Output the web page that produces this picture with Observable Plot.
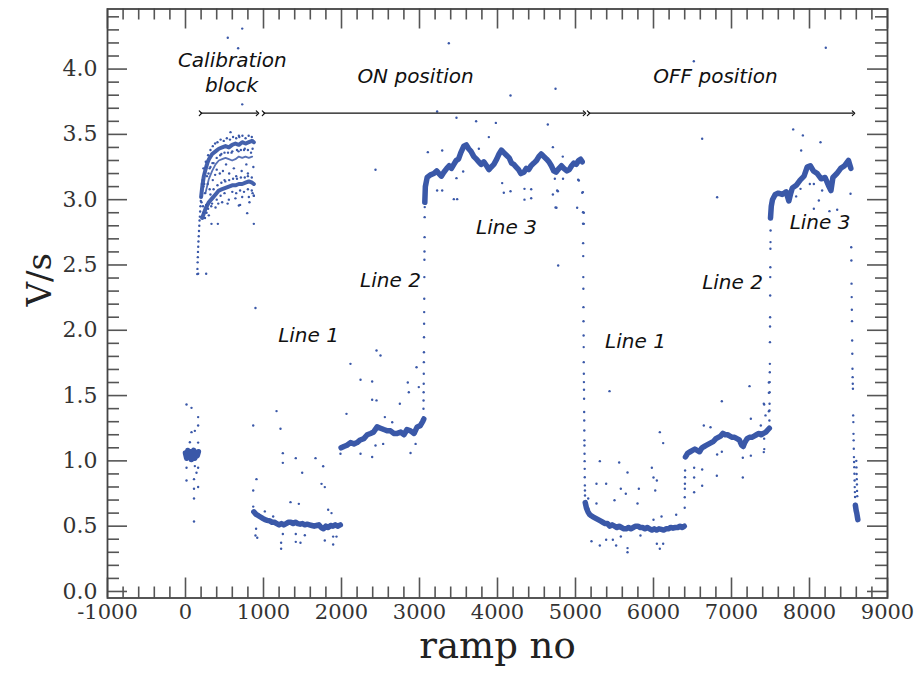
<!DOCTYPE html>
<html><head><meta charset="utf-8">
<script src="https://cdn.jsdelivr.net/npm/d3@7"></script>
<script src="https://cdn.jsdelivr.net/npm/@observablehq/plot@0.6"></script>
<style>body{margin:0;background:#fff}</style>
</head><body><div id="chart"></div>
<script>
// ---- tick labels ----
const xTicks = [-1000, 0, 1000, 2000, 3000, 4000, 5000, 6000, 7000, 8000, 9000];
const yTicks = [0.0, 0.5, 1.0, 1.5, 2.0, 2.5, 3.0, 3.5, 4.0];

// ---- dense bands: [ramp no, V/s] ----
const segA = [[0,1.06],[15,1.02],[30,1.08],[45,1.03],[60,1.07],[75,1.01],[90,1.05],[105,1.08],[120,1.02],[135,1.06],[150,1.04],[165,1.07]];
const calUpper = [[200,3.02],[215,3.10],[235,3.18],[256,3.23],[280,3.28],[300,3.31],[342,3.35],[385,3.37],[427,3.39],[470,3.40],[513,3.41],[556,3.40],[598,3.42],[640,3.43],[684,3.42],[727,3.44],[769,3.43],[812,3.44],[855,3.45],[876,3.44]];
const calMiddle = [[256,3.05],[300,3.16],[342,3.22],[385,3.27],[427,3.30],[470,3.31],[513,3.32],[556,3.31],[598,3.30],[640,3.31],[684,3.33],[727,3.32],[769,3.33],[812,3.32],[855,3.33]];
const calLower = [[214,2.86],[256,2.93],[299,2.98],[342,3.01],[385,3.04],[427,3.07],[470,3.08],[513,3.09],[556,3.10],[598,3.11],[640,3.11],[684,3.12],[727,3.12],[769,3.13],[812,3.14],[855,3.13],[876,3.12]];
const on1 = [[876,0.61],[905,0.59],[935,0.58],[962,0.57],[990,0.56],[1020,0.55],[1047,0.545],[1080,0.54],[1110,0.53],[1140,0.53],[1170,0.52],[1200,0.51],[1230,0.52],[1260,0.51],[1290,0.52],[1320,0.53],[1350,0.53],[1380,0.52],[1410,0.53],[1440,0.52],[1470,0.515],[1500,0.52],[1530,0.51],[1560,0.515],[1590,0.51],[1620,0.505],[1650,0.50],[1680,0.505],[1710,0.51],[1740,0.49],[1770,0.48],[1800,0.50],[1830,0.49],[1860,0.505],[1890,0.50],[1920,0.51],[1950,0.50],[1985,0.51]];
const on2 = [[1995,1.10],[2030,1.11],[2070,1.12],[2115,1.14],[2160,1.13],[2200,1.14],[2240,1.16],[2286,1.17],[2330,1.20],[2372,1.21],[2410,1.22],[2457,1.26],[2500,1.25],[2543,1.24],[2590,1.23],[2628,1.23],[2670,1.21],[2714,1.21],[2760,1.22],[2800,1.20],[2840,1.24],[2885,1.23],[2930,1.21],[2970,1.26],[3010,1.27],[3040,1.30],[3055,1.32]];
const on3 = [[3068,2.98],[3075,3.10],[3098,3.17],[3140,3.19],[3184,3.20],[3220,3.22],[3250,3.20],[3280,3.18],[3312,3.21],[3350,3.24],[3380,3.26],[3410,3.24],[3440,3.27],[3470,3.30],[3500,3.31],[3530,3.36],[3568,3.41],[3600,3.42],[3630,3.39],[3660,3.37],[3697,3.33],[3730,3.31],[3760,3.29],[3790,3.27],[3825,3.29],[3860,3.26],[3890,3.23],[3920,3.25],[3953,3.27],[3990,3.31],[4020,3.35],[4050,3.38],[4081,3.36],[4115,3.34],[4150,3.32],[4180,3.28],[4209,3.27],[4240,3.25],[4270,3.23],[4300,3.20],[4338,3.21],[4370,3.24],[4400,3.23],[4430,3.26],[4466,3.28],[4500,3.30],[4530,3.33],[4560,3.35],[4594,3.33],[4630,3.31],[4660,3.29],[4690,3.26],[4722,3.22],[4750,3.21],[4790,3.24],[4820,3.26],[4850,3.24],[4890,3.22],[4920,3.23],[4950,3.26],[4979,3.28],[5010,3.27],[5040,3.30],[5065,3.31],[5086,3.29]];
const off1 = [[5125,0.68],[5140,0.64],[5160,0.61],[5180,0.59],[5200,0.58],[5230,0.57],[5260,0.56],[5290,0.55],[5320,0.54],[5350,0.53],[5380,0.52],[5410,0.52],[5440,0.50],[5470,0.51],[5500,0.50],[5530,0.49],[5560,0.50],[5590,0.49],[5620,0.48],[5650,0.48],[5680,0.49],[5710,0.48],[5740,0.49],[5770,0.50],[5800,0.50],[5830,0.49],[5860,0.49],[5890,0.48],[5920,0.49],[5950,0.48],[5980,0.47],[6010,0.48],[6040,0.47],[6070,0.48],[6100,0.475],[6130,0.47],[6160,0.48],[6190,0.48],[6220,0.49],[6250,0.485],[6280,0.49],[6310,0.49],[6340,0.50],[6370,0.49],[6395,0.50]];
const off2 = [[6410,1.03],[6440,1.06],[6470,1.07],[6500,1.08],[6530,1.09],[6560,1.08],[6590,1.07],[6620,1.10],[6650,1.11],[6680,1.12],[6710,1.13],[6740,1.14],[6770,1.15],[6800,1.17],[6830,1.18],[6860,1.19],[6890,1.21],[6920,1.20],[6950,1.20],[6980,1.19],[7010,1.18],[7040,1.18],[7070,1.17],[7100,1.16],[7130,1.12],[7150,1.11],[7170,1.14],[7200,1.17],[7230,1.18],[7260,1.18],[7290,1.19],[7320,1.20],[7350,1.21],[7380,1.20],[7410,1.21],[7440,1.22],[7470,1.24],[7485,1.25]];
const off3 = [[7500,2.86],[7510,2.95],[7525,3.00],[7560,3.04],[7600,3.05],[7650,3.04],[7700,3.06],[7735,2.99],[7760,3.05],[7780,3.09],[7830,3.11],[7880,3.15],[7930,3.18],[7970,3.25],[8010,3.26],[8050,3.22],[8100,3.20],[8150,3.16],[8200,3.17],[8250,3.10],[8275,3.07],[8300,3.17],[8350,3.20],[8400,3.24],[8450,3.26],[8500,3.30],[8530,3.24]];
const endBand = [[8588,0.66],[8598,0.62],[8606,0.60],[8614,0.57],[8620,0.55]];

// ---- single points: transitions, calibration cloud and outliers ----
const calCloud = [[150,2.43],[153,2.47],[156,2.52],[158,2.56],[160,2.60],[163,2.64],[166,2.68],[170,2.72],[173,2.76],[177,2.80],[180,2.84],[184,2.87],[188,2.91],[192,2.95],[196,2.99],
[200,3.02],[205,2.98],[210,3.12],[220,3.15],[225,2.95],[230,3.10],[240,3.20],[250,3.05],[265,3.25],[270,2.90],[285,3.12],[295,3.20],[310,3.08],[320,3.25],[330,2.95],[350,3.15],[360,3.28],[380,3.19],[400,3.23],[420,2.97],[440,3.20],[460,3.35],[480,3.22],[500,3.15],[520,3.27],[540,2.97],[560,3.20],[590,3.36],[620,3.24],[650,3.18],[680,3.37],[700,2.96],[720,3.22],[750,3.38],[780,3.27],[800,3.20],[820,2.98],[840,3.36],[860,3.05],[870,3.25],
[299,2.88],[385,2.94],[470,2.98],[556,3.00],[640,3.01],[727,3.02],[812,3.02],[876,3.03],
[230,3.24],[260,3.29],[290,3.34],[320,3.38],[350,3.41],[380,3.43],[410,3.44],[450,3.46],[490,3.45],[530,3.47],[570,3.46],[610,3.48],[650,3.47],[690,3.48],[730,3.49],[770,3.47],[810,3.49],[850,3.48],
[240,3.12],[275,3.18],[310,3.24],[345,3.28],[400,3.32],[445,3.34],[500,3.36],[545,3.36],[600,3.37],[660,3.38],[710,3.38],[760,3.39],[800,3.38],[860,3.39],
[230,2.90],[265,2.96],[320,3.04],[360,3.08],[410,3.11],[460,3.13],[510,3.14],[560,3.15],[610,3.16],[660,3.16],[710,3.17],[760,3.17],[800,3.18],[850,3.17],
[250,2.86],[290,2.93],[340,2.97],[400,3.00],[450,3.03],[500,3.05],[600,3.06],[650,3.05],[700,3.07],[750,3.06],[800,3.08],[850,3.07]];
const transitions = [[3050,1.335],[3051,1.399],[3052,1.462],[3053,1.526],[3054,1.59],[3055,1.667],[3056,1.756],[3057,1.832],[3058,1.947],[3059,2.05],[3060,2.139],[3061,2.241],[3062,2.407],[3063,2.54],[3064,2.603],[3065,2.713],[3066,2.866],[3067,2.943],
[5095,3.058],[5096,2.904],[5097,2.816],[5098,2.667],[5099,2.568],[5100,2.407],[5101,2.318],[5102,2.177],[5103,2.069],[5104,1.96],[5105,1.871],[5106,1.756],[5107,1.667],[5108,1.603],[5109,1.545],[5110,1.476],[5111,1.374],[5112,1.309],[5113,1.233],[5114,1.157],[5115,1.118],[5116,1.054],[5117,0.998],[5118,0.939],[5119,0.875],[5120,0.812],[5121,0.773],[5122,0.735],
[6400,0.641],[6401,0.722],[6402,0.786],[6403,0.825],[6404,0.875],[6405,0.926],
[7486,1.309],[7487,1.386],[7488,1.437],[7489,1.526],[7490,1.603],[7491,1.679],[7492,1.743],[7493,1.909],[7494,2.029],[7495,2.10],[7496,2.266],[7497,2.407],[7498,2.483],[7499,2.624],[7500,2.675],[7501,2.764],
[8535,2.636],[8537,2.534],[8539,2.357],[8541,2.254],[8543,2.157],[8545,2.07],[8547,1.922],[8549,1.82],[8551,1.705],[8553,1.641],[8555,1.59],[8557,1.552],[8560,1.348],[8562,1.297],[8564,1.207],[8566,1.157],[8568,1.093],[8570,1.029],[8572,0.991],[8574,0.952],[8576,0.901],[8578,0.85],[8580,0.799],[8582,0.761],[8584,0.723],[8586,0.671],
[8600,1.0],[8602,0.95],[8604,0.90],[8606,0.86],[8608,0.82],[8610,0.77],[8612,0.73]];
const outliers = [
[13,1.432],[77,1.406],[162,1.335],[77,1.22],[120,1.23],[56,1.143],[162,1.14],[162,1.271],[13,0.947],[120,0.96],[162,0.947],[141,0.909],[13,0.85],[109,0.86],[109,0.786],[162,0.80],[109,0.712],[109,0.536],
[577,3.517],[684,3.49],[162,2.433],[265,2.433],[333,2.815],[415,2.815],[876,2.815],[684,2.955],[791,2.897],[876,3.03],[727,4.31],[542,4.24],[675,4.16],[727,3.73],[897,2.17],
[868,1.271],[1167,1.381],[1218,1.246],[1248,1.059],[1248,0.985],[1414,1.021],[1496,0.909],[1667,1.021],[1765,0.959],[1744,0.824],[1786,0.799],[1346,0.684],[1453,0.671],[910,0.86],[868,0.773],[868,0.65],[1829,0.626],[1872,0.60],[1017,0.613],[1124,0.574],
[897,0.429],[920,0.411],[1226,0.373],[1226,0.327],[1248,0.44],[1414,0.38],[1414,0.44],[1474,0.373],[1530,0.43],[1786,0.39],[1893,0.36],[1893,0.42],[1936,0.42],[905,0.48],
[2115,1.743],[2244,1.621],[2393,1.608],[2449,1.845],[2500,1.807],[2393,1.468],[2449,1.463],[2748,1.437],[2850,1.60],[2863,1.526],[2962,1.717],[2991,1.565],[2064,1.36],[2556,1.335],[2650,1.296],
[1987,1.054],[2244,1.054],[2393,1.03],[2436,1.118],[2534,1.13],[2885,1.06],[2950,1.13],
[2436,3.229],[3226,3.675],[3474,3.627],[3726,3.601],[3979,3.588],[4645,3.576],[3889,3.479],[4710,3.402],[3107,3.364],[3291,3.377],[3761,3.39],[3226,3.07],[3291,3.07],[3440,3.004],[3483,3.004],[3560,3.216],[3474,3.165],[4060,3.127],[4081,3.053],[4167,3.065],[4346,3.083],[4346,3.00],[4432,3.011],[4432,3.08],[4710,3.04],[4774,3.065],[4756,2.938],[5021,2.938],[5086,3.053],[5107,2.90],[5107,2.815],[5034,3.152],[4735,3.16],[4840,3.16],[4837,3.33],
[3376,4.198],[4167,3.798],[4744,3.849],[4765,3.07],[4744,2.94],[5043,3.147],[4778,2.496],
[5436,1.534],[5312,0.998],[5560,0.988],[5667,0.911],[5269,0.825],[5393,0.825],[5581,0.786],[5645,0.748],[5812,0.786],[5795,0.674],[5269,0.674],[5500,0.699],[5979,0.947],[6000,0.873],[6043,0.85],[6022,0.773],[6081,1.22],[6124,1.136],[6000,0.549],[6103,0.574],[6291,0.587],[5163,0.712],[5163,0.636],
[5205,0.385],[5312,0.352],[5479,0.396],[5521,0.352],[5667,0.332],[5667,0.30],[5581,0.421],[6081,0.327],[6043,0.365],[6124,0.365],[5393,0.396],[5833,0.429],
[7231,1.572],[6876,1.457],[7419,1.432],[7479,1.521],[7479,1.60],[7479,1.38],[6645,1.271],[6731,1.258],[7248,1.322],[7376,1.271],[7419,1.17],[6816,1.049],[6876,1.07],[7145,1.024],[7248,1.04],[6521,0.947],[6624,0.934],[6812,0.886],[7145,0.873],[6521,0.873],[6624,0.81],[6521,0.76],
[7414,1.437],[7436,1.348],[7414,1.067],[7420,1.09],
[7791,3.538],[7915,3.492],[7893,3.377],[8141,3.44],[7829,3.025],[8056,2.93],[8120,2.994],[8256,2.912],[8355,2.923],[8056,3.12],[8162,3.07],[7885,3.083],[8004,3.12],[8526,3.045],
[8209,4.163],[6517,4.06],[6624,3.466],[6816,3.019]];

// ---- annotations ----
const annotText = ["Calibration", "block", "ON position", "OFF position", "Line 1", "Line 2", "Line 3", "Line 1", "Line 2", "Line 3"];
const annotRamp = [600, 590, 2949, 6795, 1577, 2628, 4115, 5769, 7013, 8135];
const annotV = [4.064, 3.872, 3.939, 3.941, 1.96, 2.38, 2.79, 1.914, 2.366, 2.822];
const arrowStart = [192, 1000, 5167];
const arrowEnd = [923, 5115, 8564];
const arrowV = [3.662, 3.662, 3.662];

// ---- build tables ----
const W = 922, H = 679;
const mL = 107, mR = 35, mT = 8.5, mB = 81.5;
const pw = W - mL - mR, ph = H - mT - mB;
const blue = "#3a58a8";
const toRows = (arr, k) => arr.map(([x, y]) => ({x, y, k}));
const bands = [
  ...toRows(segA, "a"),
  ...toRows(on1, "on1"), ...toRows(on2, "on2"), ...toRows(on3, "on3"),
  ...toRows(off1, "off1"), ...toRows(off2, "off2"), ...toRows(off3, "off3"), ...toRows(endBand, "end")
];
const calBands = [...toRows(calUpper, "cu"), ...toRows(calLower, "cl")];
const points = [...toRows(calCloud, "c"), ...toRows(transitions, "t"), ...toRows(outliers, "o")];
const annots = annotText.map((t, i) => ({t, x: annotRamp[i], y: annotV[i]}));
const arrows = arrowStart.map((s, i) => ({x1: s, x2: arrowEnd[i], y: arrowV[i]}));
const xMinor = d3.range(-1000, 9001, 200).filter(v => v % 1000 !== 0);
const yMinor = d3.range(0, 45).filter(i => i % 5 !== 0).map(i => i / 10);

const tickColor = "#555";
const serif = "'DejaVu Serif', serif";
const chart = Plot.plot({
  width: W, height: H,
  marginLeft: mL, marginRight: mR, marginTop: mT, marginBottom: mB,
  x: {domain: [-1000, 9000]},
  y: {domain: [-0.05, 4.46]},
  style: {fontFamily: serif, background: "#fff", color: "#333"},
  marks: [
    // inward ticks on all four sides
    Plot.tickX(xTicks, {x: d => d, insetTop: ph - 20, stroke: tickColor, strokeWidth: 1.6}),
    Plot.tickX(xMinor, {x: d => d, insetTop: ph - 11, stroke: tickColor, strokeWidth: 1.6}),
    Plot.tickX(xTicks, {x: d => d, insetBottom: ph - 20, stroke: tickColor, strokeWidth: 1.6}),
    Plot.tickX(xMinor, {x: d => d, insetBottom: ph - 11, stroke: tickColor, strokeWidth: 1.6}),
    Plot.tickY(yTicks, {y: d => d, insetRight: pw - 20, stroke: tickColor, strokeWidth: 1.6}),
    Plot.tickY(yMinor, {y: d => d, insetRight: pw - 12, stroke: tickColor, strokeWidth: 1.6}),
    Plot.tickY(yTicks, {y: d => d, insetLeft: pw - 20, stroke: tickColor, strokeWidth: 1.6}),
    Plot.tickY(yMinor, {y: d => d, insetLeft: pw - 12, stroke: tickColor, strokeWidth: 1.6}),
    Plot.frame({stroke: "#444", strokeWidth: 1.8}),
    Plot.axisX(xTicks, {tickSize: 0, tickPadding: 6, label: null, tickFormat: d => String(d), fill: "#333", fontSize: 21, fontFamily: serif}),
    Plot.axisY(yTicks, {tickSize: 0, tickPadding: 10, label: null, tickFormat: d => d.toFixed(1), fill: "#333", fontSize: 22, fontFamily: serif}),
    Plot.text(["V/s"], {frameAnchor: "left", dx: -67, dy: 3, rotate: -90, text: d => d, fontSize: 34, fill: "#222", fontFamily: serif}),
    Plot.text(["ramp no"], {frameAnchor: "bottom", dy: 60, text: d => d, fontSize: 37, fill: "#222", fontFamily: serif}),
    // data
    Plot.line(toRows(calMiddle, "cm"), {x: "x", y: "y", stroke: blue, strokeWidth: 1.8, strokeOpacity: 0.85}),
    Plot.line(calBands, {x: "x", y: "y", z: "k", stroke: blue, strokeWidth: 4, strokeOpacity: 0.95}),
    Plot.line(bands, {x: "x", y: "y", z: "k", stroke: blue, strokeWidth: 5.5, strokeLinejoin: "round"}),
    Plot.dot(points, {x: "x", y: "y", r: 1.2, fill: blue, stroke: null}),
    // annotations
    Plot.link(arrows, {x1: "x1", x2: "x2", y1: "y", y2: "y", stroke: "#111", strokeWidth: 1.2, markerStart: "arrow", markerEnd: "arrow"}),
    Plot.text(annots, {x: "x", y: "y", text: "t", fontFamily: "'DejaVu Sans', sans-serif", fontStyle: "italic", fontSize: 20, fill: "#111"})
  ]
});
document.getElementById("chart").appendChild(chart);
</script>
</body></html>
